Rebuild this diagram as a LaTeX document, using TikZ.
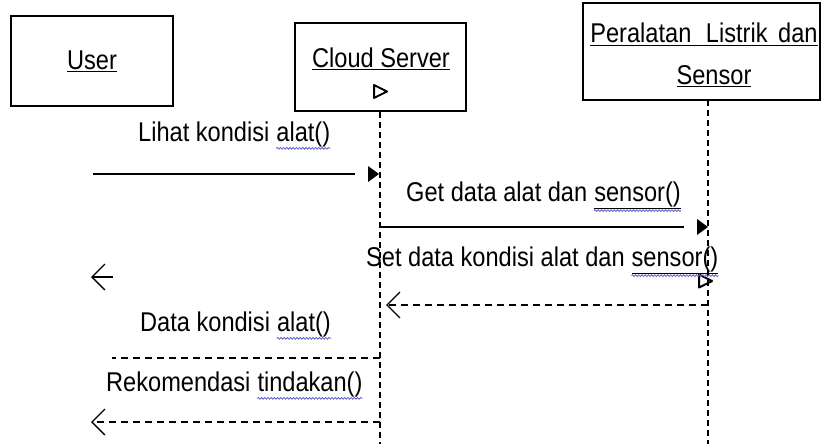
\documentclass[tikz,border=0pt]{standalone}
\usepackage{fontspec}
\setmainfont{Liberation Sans}
\usepackage{graphicx}
\usetikzlibrary{arrows.meta,calc,positioning,decorations.pathmorphing}
\definecolor{spellblue}{RGB}{96,96,210}
\newcommand{\seqfont}{\fontsize{23.6}{33}\selectfont}
\newcommand{\tall}[1]{\scalebox{1}[1.15]{#1}}
\newcommand{\objname}[1]{\tall{\underline{#1}}}

\tikzset{
  obj/.style={draw,line width=1.6pt,inner sep=0pt},
  lbl/.style={inner sep=0pt,font=\seqfont},
  life/.style={line width=1.3pt,dash pattern=on 6pt off 4pt},
  callline/.style={line width=1.6pt},
  retline/.style={line width=1.3pt,dash pattern=on 7pt off 5pt},
  openhead/.style={line width=1.3pt,-{Straight Barb[length=13pt,width=26pt]}},
  openmark/.style={line width=2pt,line join=round},
  spell/.style={draw=spellblue,line width=0.8pt,decorate,
    decoration={snake,amplitude=0.9pt,segment length=3.2pt}},
}

\begin{document}
\begin{tikzpicture}[x=1pt,y=-1pt]
\useasboundingbox (0,0) rectangle (821,444);

\node[obj,minimum width=162pt,minimum height=90pt] (usr) at (92,61) {};
\node[obj,minimum width=171pt,minimum height=88pt] (srv) at (380.5,67) {};
\node[obj,minimum width=237pt,minimum height=97pt] (alat) at (701.5,51.5) {};
\node[lbl,anchor=base] (usrtxt) at (92,69) {\objname{User}};
\node[lbl,anchor=base] (srvtxt) at (381,67) {\objname{Cloud Server}};
\node[lbl,anchor=base] (alattxt) at (704,43) {\objname{Peralatan\hspace{.62em}Listrik\hspace{.45em}dan}};
\node[lbl,anchor=base] (sensortxt) at (714,84) {\objname{Sensor}};

% lifelines
\coordinate (srvend) at (380,444);
\coordinate (alattop) at (708,100);
\coordinate (alatend) at (708,444);
\draw[life] (srv.south -| srvend) -- (srvend);
\draw[life] (alattop) -- (alatend);
\coordinate (srvmark) at (387,91.5);
\coordinate (alatmark) at (712,281);
\draw[openmark] (srvmark) -- ++(-13,-6.5) -- ++(0,13) -- cycle;
\draw[openmark] (alatmark) -- ++(-13,-6.5) -- ++(0,13) -- cycle;

% messages
\coordinate (m1s) at (93,174);
\coordinate (m1e) at (379,174);
\coordinate (m2s) at (380,227);
\coordinate (m2e) at (708,227);
\coordinate (m3s) at (708,305);
\coordinate (m3e) at (386,305);
\coordinate (m4s) at (380,358);
\coordinate (m4e) at (112,358);
\coordinate (m5s) at (380,422);
\coordinate (m5e) at (91,422);
\coordinate (strays) at (113,277);
\coordinate (straye) at (91,277);

\draw[callline] (m1s) -- ($(m1e)+(-24,0)$);
\fill (m1e) -- ++(-11,-8) -- ++(0,16) -- cycle;
\draw[callline] (m2s) -- ($(m2e)+(-24,0)$);
\fill (m2e) -- ++(-11,-8) -- ++(0,16) -- cycle;
\draw[retline,openhead] (m3s) -- (m3e);
\draw[retline] (m4s) -- (m4e);
\draw[retline,openhead] (m5s) -- (m5e);
\draw[openhead] (strays) -- (straye);

% labels
\node[lbl,anchor=base west] (m1a) at (138,141) {\tall{Lihat kondisi}};
\node[lbl,right=6.6pt of m1a.base east,anchor=base west] (m1b) {\tall{alat()}};
\node[lbl,anchor=base west] (m2a) at (406,201) {\tall{Get data alat dan}};
\node[lbl,right=6.6pt of m2a.base east,anchor=base west] (m2b) {\tall{\underline{sensor()}}};
\node[lbl,anchor=base west] (m3a) at (366,266) {\tall{Set data kondisi alat dan}};
\node[lbl,right=6.6pt of m3a.base east,anchor=base west] (m3b) {\tall{\underline{sensor()}}};
\node[lbl,anchor=base west] (m4a) at (140,331) {\tall{Data kondisi}};
\node[lbl,right=6.6pt of m4a.base east,anchor=base west] (m4b) {\tall{alat()}};
\node[lbl,anchor=base west] (m5a) at (106,391) {\tall{Rekomendasi}};
\node[lbl,right=6.6pt of m5a.base east,anchor=base west] (m5b) {\tall{tindakan()}};
\foreach \w in {m1b,m2b,m3b,m4b,m5b}
  \draw[spell] ($(\w.south west)+(0,1.5)$) -- ($(\w.south east)+(0,1.5)$);
\end{tikzpicture}
\end{document}
